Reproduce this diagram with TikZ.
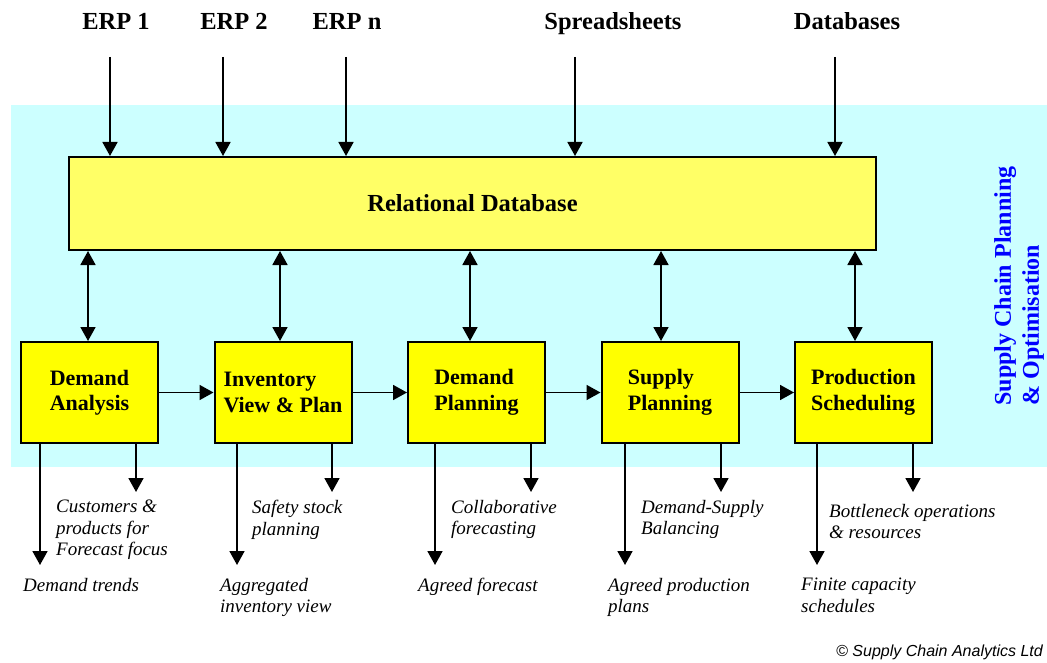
\documentclass[tikz,border=0pt]{standalone}
\usepackage{fontspec}
\setmainfont{Liberation Serif}
\newfontfamily\copyfont{Liberation Sans}
\usetikzlibrary{arrows.meta,calc}
\definecolor{bgcyan}{HTML}{CCFFFF}
\definecolor{dbyellow}{HTML}{FFFF66}
\definecolor{boxyellow}{HTML}{FFFF00}
\definecolor{sideblue}{HTML}{0000FF}
\begin{document}
\begin{tikzpicture}[x=1pt,y=-1pt,
  dbbox/.style={draw=black,line width=2pt,fill=dbyellow,minimum width=807pt,minimum height=93pt,inner sep=0pt,font=\fontsize{24.5}{28}\selectfont\bfseries},
  stagebox/.style={draw=black,line width=2pt,fill=boxyellow,minimum width=137pt,minimum height=101pt,inner sep=0pt,align=left,font=\fontsize{22}{25.5}\selectfont\bfseries},
  srclabel/.style={anchor=base,font=\fontsize{24.5}{28}\selectfont\bfseries,inner sep=0pt},
  outlabel/.style={anchor=north west,align=left,inner sep=0pt,font=\fontsize{19}{21.5}\selectfont\itshape},
  tip/.style={},
  arr/.style={line width=1.8pt,-{Triangle[width=15pt,length=14pt]}},
  dblarr/.style={line width=1.8pt,{Triangle[width=15pt,length=14pt]}-{Triangle[width=15pt,length=14pt]}},
]
\useasboundingbox (0,0) rectangle (1047,663);
\fill[bgcyan] (11,105) rectangle (1047,467);

% source labels
\node[srclabel] (erp1) at (116,30) {ERP 1};
\node[srclabel] (erp2) at (234,30) {ERP 2};
\node[srclabel] (erpn) at (347,30) {ERP n};
\node[srclabel] (sprd) at (613,30) {Spreadsheets};
\node[srclabel] (dbs) at (847,30) {Databases};

% database
\node[dbbox] (db) at (472.5,203.5) {Relational Database};

% stage boxes
\node[stagebox] (b1) at (89.5,392.5) {Demand\\Analysis};
\node[stagebox] (b2) at (283,392.5) {Inventory\\View \& Plan};
\node[stagebox] (b3) at (476.5,392.5) {Demand\\Planning};
\node[stagebox] (b4) at (670,392.5) {Supply\\Planning};
\node[stagebox] (b5) at (863.5,392.5) {Production\\Scheduling};

% side text
\node[rotate=90,align=left,text=sideblue,font=\fontsize{24}{28}\selectfont\bfseries,inner sep=0pt] (side) at (1019,286) {Supply Chain Planning\\\& Optimisation};

% input arrows
\coordinate (i1) at (110,57);
\coordinate (i2) at (223,57);
\coordinate (i3) at (346,57);
\coordinate (i4) at (575,57);
\coordinate (i5) at (835,57);
\foreach \i in {i1,i2,i3,i4,i5} \draw[arr] (\i) -- (\i |- db.north);

% double arrows
\coordinate (v1) at (88,0);
\coordinate (v2) at (280,0);
\coordinate (v3) at (470,0);
\coordinate (v4) at (661,0);
\coordinate (v5) at (855,0);
\draw[dblarr] (db.south -| v1) -- (b1.north -| v1);
\draw[dblarr] (db.south -| v2) -- (b2.north -| v2);
\draw[dblarr] (db.south -| v3) -- (b3.north -| v3);
\draw[dblarr] (db.south -| v4) -- (b4.north -| v4);
\draw[dblarr] (db.south -| v5) -- (b5.north -| v5);

% flow arrows
\draw[arr] (b1.east) -- (b2.west);
\draw[arr] (b2.east) -- (b3.west);
\draw[arr] (b3.east) -- (b4.west);
\draw[arr] (b4.east) -- (b5.west);

% output arrows
\coordinate (e1L) at (40,565);  \coordinate (e1R) at (136,492);
\coordinate (e2L) at (237,565); \coordinate (e2R) at (332,492);
\coordinate (e3L) at (435,565); \coordinate (e3R) at (531,492);
\coordinate (e4L) at (625,565); \coordinate (e4R) at (721,492);
\coordinate (e5L) at (817,565); \coordinate (e5R) at (913,492);
\draw[arr] (e1L |- b1.south) -- (e1L);
\draw[arr] (e1R |- b1.south) -- (e1R);
\draw[arr] (e2L |- b2.south) -- (e2L);
\draw[arr] (e2R |- b2.south) -- (e2R);
\draw[arr] (e3L |- b3.south) -- (e3L);
\draw[arr] (e3R |- b3.south) -- (e3R);
\draw[arr] (e4L |- b4.south) -- (e4L);
\draw[arr] (e4R |- b4.south) -- (e4R);
\draw[arr] (e5L |- b5.south) -- (e5L);
\draw[arr] (e5R |- b5.south) -- (e5R);

% output labels
\node[outlabel] (u1) at (56,500) {Customers \&\\products for\\Forecast focus};
\node[outlabel] (d1) at (23,578) {Demand trends};
\node[outlabel] (u2) at (252,500) {Safety stock\\planning};
\node[outlabel] (d2) at (220,578) {Aggregated\\inventory view};
\node[outlabel] (u3) at (451,500) {Collaborative\\forecasting};
\node[outlabel] (d3) at (418,578) {Agreed forecast};
\node[outlabel] (u4) at (641,500) {Demand-Supply\\Balancing};
\node[outlabel] (d4) at (608,578) {Agreed production\\plans};
\node[outlabel] (u5) at (829,504) {Bottleneck operations\\\& resources};
\node[outlabel] (d5) at (801,578) {Finite capacity\\schedules};

% copyright
\node[anchor=base east,inner sep=0pt,font=\copyfont\itshape\fontsize{16}{19}\selectfont] (copy) at (1043,656) {© Supply Chain Analytics Ltd};
\end{tikzpicture}
\end{document}
